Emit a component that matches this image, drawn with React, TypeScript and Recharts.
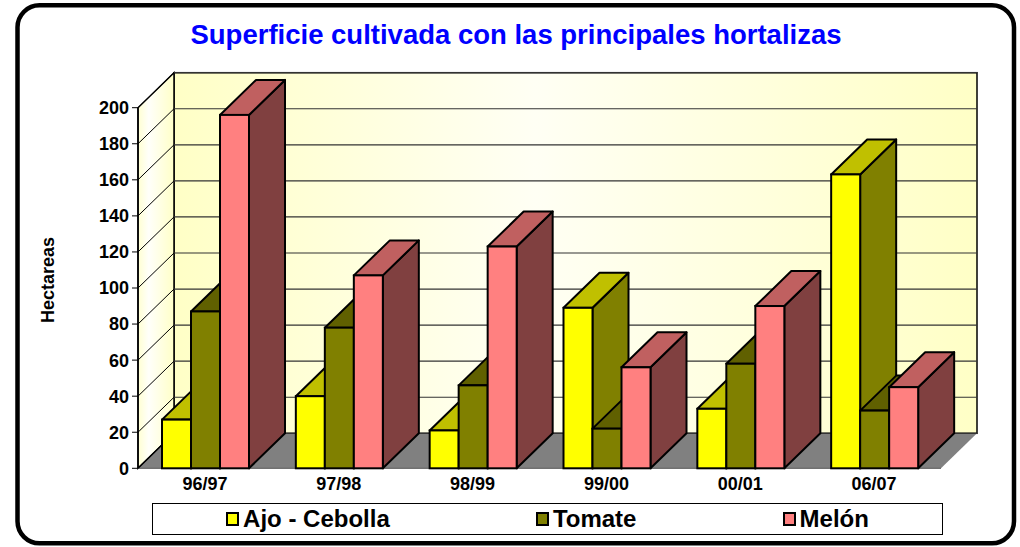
import React from 'react';
import { BarChart, Bar, XAxis, YAxis, CartesianGrid, ReferenceArea, Legend } from 'recharts';

const categories = ['96/97', '97/98', '98/99', '99/00', '00/01', '06/07'];
const ajoCebolla = [27, 40, 21, 89, 33, 163];
const tomate = [87, 78, 46, 22, 58, 32];
const melon = [196, 107, 123, 56, 90, 45];
const yTicks = [0, 20, 40, 60, 80, 100, 120, 140, 160, 180, 200];
const seriesNames = ['Ajo - Cebolla', 'Tomate', 'Melón'];

const data = categories.map((c, i) => ({ cat: c, ajo: ajoCebolla[i], tomate: tomate[i], melon: melon[i] }));

const FONT = '"Liberation Sans", Arial, Helvetica, sans-serif';
const DX = 36;
const DY = -35;

function make3DBar(front: string, top: string, side: string) {
  return (props: any) => {
    const { x, y, width, height } = props;
    if (!height || height <= 0) return <g />;
    const b = y + height;
    const r = x + width;
    return (
      <g>
        <path
          d={`M${r},${y} L${r + DX},${y + DY} L${r + DX},${b + DY} L${r},${b} Z`}
          fill={side}
          stroke="#000"
          strokeWidth={2}
          strokeLinejoin="round"
        />
        <path
          d={`M${x},${y} L${x + DX},${y + DY} L${r + DX},${y + DY} L${r},${y} Z`}
          fill={top}
          stroke="#000"
          strokeWidth={2}
          strokeLinejoin="round"
        />
        <rect x={x} y={y} width={width} height={height} fill={front} stroke="#000" strokeWidth={2} />
      </g>
    );
  };
}

const AjoShape = make3DBar('#FFFF00', '#C0C000', '#808000');
const TomateShape = make3DBar('#808000', '#606000', '#404000');
const MelonShape = make3DBar('#FF8080', '#C06060', '#804040');

const Walls = (props: any) => {
  const { x, y, width, height } = props;
  const b = y + height;
  const r = x + width;
  return (
    <g>
      <defs>
        <linearGradient id="backWall" x1="0" y1="0" x2="1" y2="0">
          <stop offset="0" stopColor="#FFFFC6" />
          <stop offset="0.45" stopColor="#FFFFF4" />
          <stop offset="1" stopColor="#FFFFC6" />
        </linearGradient>
        <linearGradient id="leftWall" x1="0" y1="0" x2="1" y2="0">
          <stop offset="0" stopColor="#FFFFD2" />
          <stop offset="0.3" stopColor="#FFFFFA" />
          <stop offset="1" stopColor="#FFFFC8" />
        </linearGradient>
      </defs>
      <rect x={x + DX} y={y + DY} width={width} height={height} fill="url(#backWall)" stroke="#000" strokeWidth={1.5} />
      <path
        d={`M${x},${b} L${x},${y} L${x + DX},${y + DY} L${x + DX},${b + DY} Z`}
        fill="url(#leftWall)"
        stroke="#000"
        strokeWidth={1.5}
      />
      <path d={`M${x},${b} L${x + DX},${b + DY} L${r + DX},${b + DY} L${r},${b} Z`} fill="#808080" stroke="none" />
      <line x1={x} y1={b} x2={x + DX} y2={b + DY} stroke="#000" strokeWidth={1.5} />
      <line x1={x} y1={b} x2={r} y2={b} stroke="#555" strokeWidth={1} />
    </g>
  );
};

const gridLine = (props: any) => {
  const { x1, y1, x2, index } = props;
  return (
    <g key={`gl-${index}-${y1}`}>
      <line x1={x1} y1={y1} x2={x1 + DX} y2={y1 + DY} stroke="#000" strokeWidth={1} />
      <line x1={x1 + DX} y1={y1 + DY} x2={x2 + DX} y2={y1 + DY} stroke="#333" strokeWidth={1.2} />
    </g>
  );
};

const LegendContent = (props: any) => {
  const payload = [...(props.payload || [])].sort(
    (a: any, b: any) => seriesNames.indexOf(a.value) - seriesNames.indexOf(b.value)
  );
  return (
    <div
      style={{
        boxSizing: 'border-box',
        width: 791,
        height: 32,
        border: '1.5px solid #000',
        background: '#fff',
        display: 'flex',
        justifyContent: 'space-around',
        alignItems: 'center',
        fontFamily: FONT,
        fontWeight: 'bold',
        fontSize: 24,
        color: '#000',
      }}
    >
      {payload.map((p: any, i: number) => (
        <div key={i} style={{ display: 'flex', alignItems: 'center' }}>
          <span
            style={{
              display: 'inline-block',
              boxSizing: 'border-box',
              width: 13,
              height: 14,
              border: '2px solid #000',
              background: p.color,
              marginRight: 4,
            }}
          />
          <span style={{ lineHeight: '28px' }}>{p.value}</span>
        </div>
      ))}
    </div>
  );
};

const HectLabel = () => (
  <text
    x={48}
    y={280}
    transform="rotate(-90 48 280)"
    textAnchor="middle"
    dominantBaseline="central"
    fontFamily={FONT}
    fontWeight="bold"
    fontSize={18}
    fill="#000"
  >
    Hectareas
  </text>
);

export default function App() {
  return (
    <div style={{ position: 'absolute', left: 0, top: 0, width: 1020, height: 547, background: '#fff' }}>
      <svg width={1020} height={547} style={{ position: 'absolute', left: 0, top: 0 }}>
        <rect x={17.5} y={5.3} width={996.5} height={538} rx={22} ry={22} fill="#fff" stroke="#000" strokeWidth={4.5} />
        <text x={516} y={43.5} textAnchor="middle" fontFamily={FONT} fontWeight="bold" fontSize={27.5} fill="#0000FF">
          Superficie cultivada con las principales hortalizas
        </text>
      </svg>
      <div style={{ position: 'absolute', left: 0, top: 0 }}>
        <BarChart
          width={1020}
          height={547}
          data={data}
          margin={{ top: 107.7, right: 79, bottom: 0, left: 0 }}
          barCategoryGap={24}
          barGap={0}
        >
          <ReferenceArea y1={0} y2={200} shape={Walls} zIndex={-200} ifOverflow="visible" />
          <CartesianGrid vertical={false} horizontal={gridLine} stroke="#000" />
          <XAxis
            dataKey="cat"
            height={78.7}
            axisLine={false}
            tickLine={false}
            tickSize={0}
            tickMargin={9}
            interval={0}
            tick={{ fontFamily: FONT, fontWeight: 'bold', fontSize: 18, fill: '#000' }}
          />
          <YAxis
            width={138}
            domain={[0, 200]}
            ticks={yTicks}
            interval={0}
            axisLine={{ stroke: '#000', strokeWidth: 1.5 }}
            tickLine={{ stroke: '#000' }}
            tickSize={6}
            tickMargin={3}
            tick={{ fontFamily: FONT, fontWeight: 'bold', fontSize: 18, fill: '#000' }}
            label={{ content: HectLabel } as any}
          />
          <Legend
            layout="horizontal"
            verticalAlign="middle"
            align="center"
            itemSorter={null as any}
            wrapperStyle={{ left: 152, top: 503, width: 791, height: 32, margin: 0 }}
            content={LegendContent}
          />
          <Bar dataKey="ajo" name="Ajo - Cebolla" fill="#FFFF00" shape={AjoShape} isAnimationActive={false} />
          <Bar dataKey="tomate" name="Tomate" fill="#808000" shape={TomateShape} isAnimationActive={false} />
          <Bar dataKey="melon" name="Melón" fill="#FF8080" shape={MelonShape} isAnimationActive={false} />
        </BarChart>
      </div>
    </div>
  );
}
